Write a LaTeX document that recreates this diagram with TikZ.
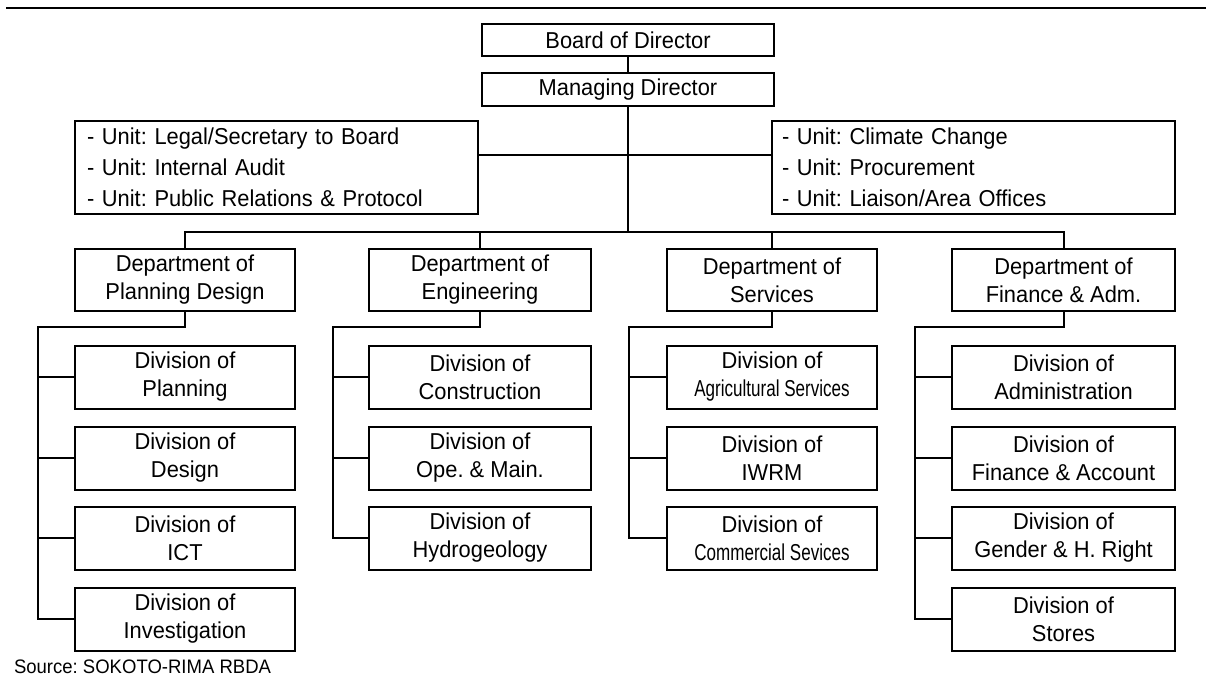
\documentclass[tikz,border=0pt]{standalone}
\usepackage{fontspec}
\usepackage{graphicx}
\setmainfont[FakeStretch=0.95]{Liberation Sans}
\newcommand{\narrow}[1]{\scalebox{0.78}[1]{#1}}
\begin{document}
\frenchspacing
\begin{tikzpicture}[x=1pt,y=-1pt,
  line width=2pt,
  box/.style={draw, line width=2pt, inner sep=0pt, align=center,
    font=\fontsize{23}{28}\selectfont},
  unitbox/.style={draw, line width=2pt, inner ysep=0pt, align=left,
    minimum height=93pt, font=\fontsize{23}{31}\selectfont},
  dept/.style={box, minimum height=62pt},
  div/.style={box, minimum height=63pt},
  link/.style={line width=2pt},
]
\useasboundingbox (0,0) rectangle (1206,677);

% rule across the top
\coordinate (ruleL) at (6,8);
\coordinate (ruleR) at (1206,8);
\draw[link] (ruleL) -- (ruleR);

% top management
\node[box, minimum width=292pt, minimum height=32pt] (board) at (628,40) {Board of Director};
\node[box, minimum width=292pt, minimum height=33pt] (mgr) at (628,89.5) {Managing Director};

% staff units
\node[unitbox, text width=379pt, inner xsep=12pt] (lu) at (276.5,167.5)
  {- Unit: Legal/Secretary to Board\\- Unit: Internal Audit\\- Unit: Public Relations \& Protocol};
\node[unitbox, text width=383pt, inner xsep=10pt] (ru) at (973.5,167.5)
  {- Unit: Climate Change\\- Unit: Procurement\\- Unit: Liaison/Area Offices};

% departments
\node[dept, minimum width=220pt] (d1) at (185,280) {Department of\\Planning Design};
\node[dept, minimum width=222pt] (d2) at (480,280) {Department of\\Engineering};
\node[dept, minimum width=210pt] (d3) at (772,280) {Department of\\Services};
\node[dept, minimum width=223pt] (d4) at (1063.5,280) {Department of\\Finance \& Adm.};

% divisions: planning design
\node[div, minimum width=220pt] (p1) at (185,377) {Division of\\Planning};
\node[div, minimum width=220pt] (p2) at (185,458) {Division of\\Design};
\node[div, minimum width=220pt] (p3) at (185,538) {Division of\\ICT};
\node[div, minimum width=220pt] (p4) at (185,619) {Division of\\Investigation};

% divisions: engineering
\node[div, minimum width=222pt] (e1) at (480,377) {Division of\\Construction};
\node[div, minimum width=222pt] (e2) at (480,458) {Division of\\Ope. \& Main.};
\node[div, minimum width=222pt] (e3) at (480,538) {Division of\\Hydrogeology};

% divisions: services
\node[div, minimum width=210pt] (v1) at (772,377) {Division of\\\narrow{Agricultural Services}};
\node[div, minimum width=210pt] (v2) at (772,458) {Division of\\IWRM};
\node[div, minimum width=210pt] (v3) at (772,538) {Division of\\\narrow{Commercial Sevices}};

% divisions: finance & administration
\node[div, minimum width=223pt] (f1) at (1063.5,377) {Division of\\Administration};
\node[div, minimum width=223pt] (f2) at (1063.5,458) {Division of\\Finance \& Account};
\node[div, minimum width=223pt] (f3) at (1063.5,538) {Division of\\Gender \& H. Right};
\node[div, minimum width=223pt] (f4) at (1063.5,619) {Division of\\Stores};

% source note
\node[anchor=west, inner sep=0pt, font=\fontsize{19.5}{23}\selectfont] (src) at (13,667) {Source: SOKOTO-RIMA RBDA};

% main trunk
\coordinate (hub) at (628,155);
\coordinate (bus) at (628,232);
\draw[link] (board) -- (mgr);
\draw[link] (mgr.south) -- (bus);
\draw[link] (lu.east |- hub) -- (ru.west |- hub);

% bus to departments
\draw[link] (d1.north) |- (bus) -| (d4.north);
\draw[link] (d2.north) -- (d2.north |- bus);
\draw[link] (d3.north) -- (d3.north |- bus);

% department spines
\coordinate (s1) at (38,327);
\coordinate (s2) at (333,327);
\coordinate (s3) at (629,327);
\coordinate (s4) at (915,327);

\draw[link] (d1.south) |- (s1) |- (p4.west);
\foreach \n in {p1,p2,p3} \draw[link] (s1 |- \n.west) -- (\n.west);

\draw[link] (d2.south) |- (s2) |- (e3.west);
\foreach \n in {e1,e2} \draw[link] (s2 |- \n.west) -- (\n.west);

\draw[link] (d3.south) |- (s3) |- (v3.west);
\foreach \n in {v1,v2} \draw[link] (s3 |- \n.west) -- (\n.west);

\draw[link] (d4.south) |- (s4) |- (f4.west);
\foreach \n in {f1,f2,f3} \draw[link] (s4 |- \n.west) -- (\n.west);
\end{tikzpicture}
\end{document}
